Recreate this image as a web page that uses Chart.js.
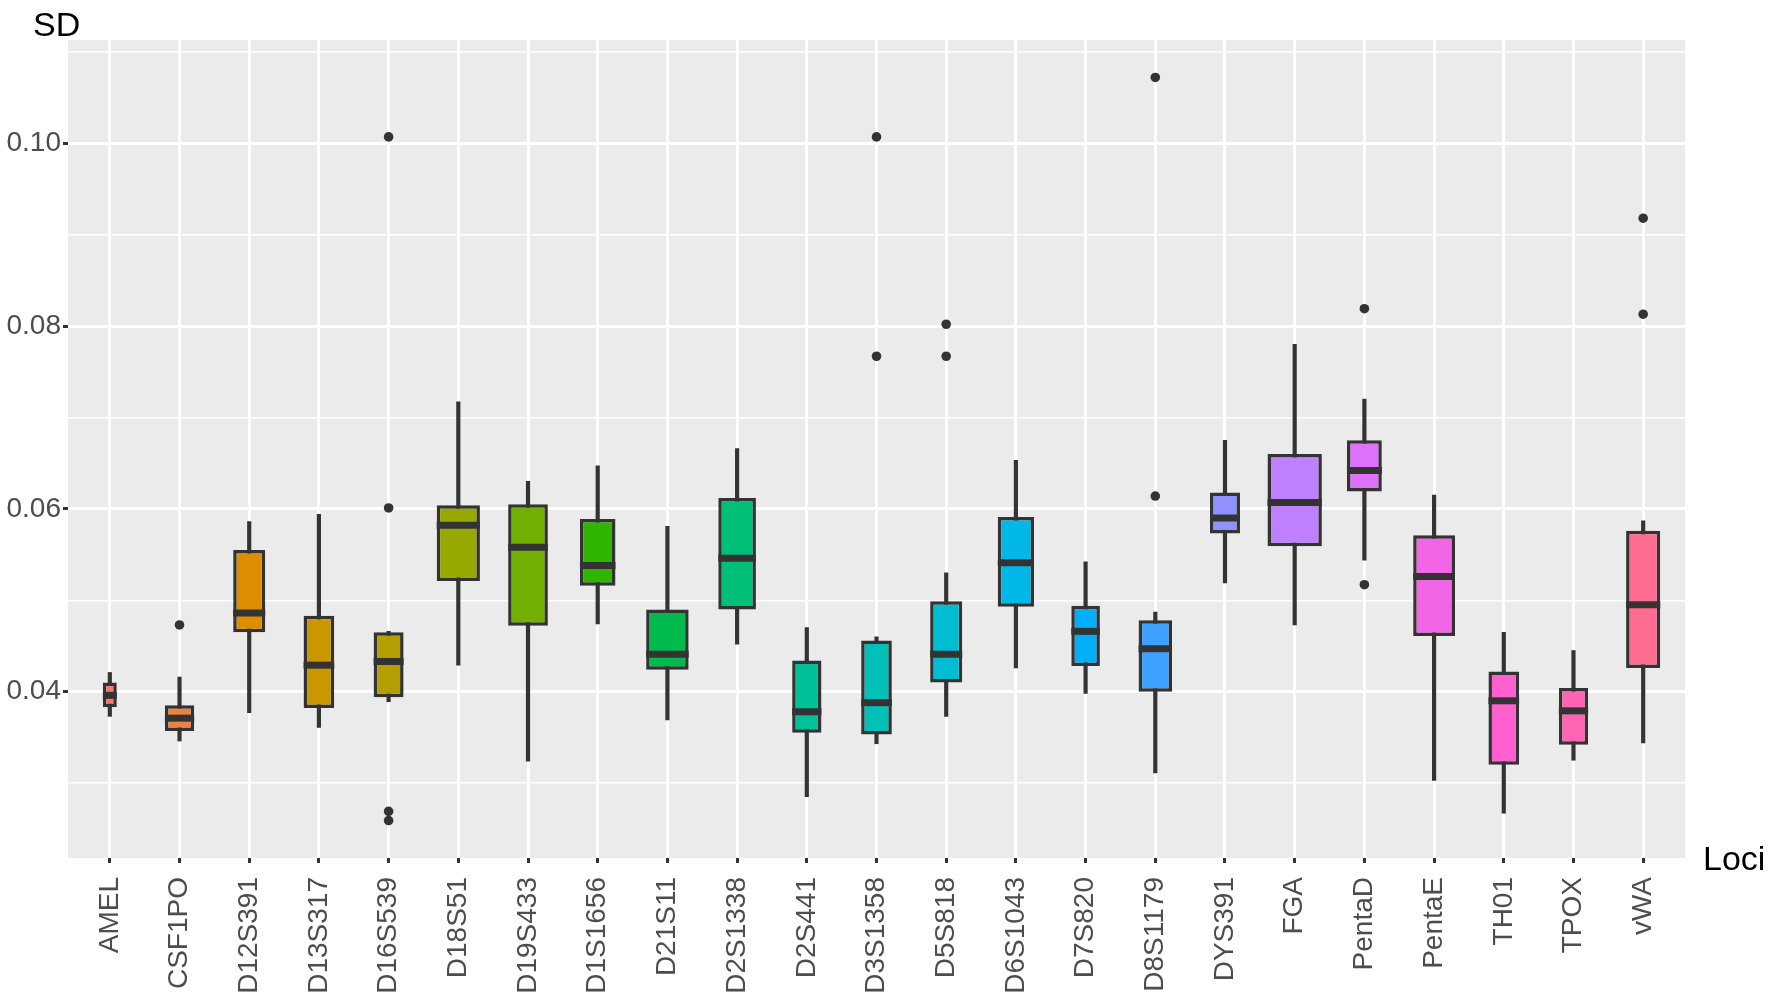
<!DOCTYPE html>
<html>
<head>
<meta charset="utf-8">
<title>SD by loci</title>
<script src="https://cdn.jsdelivr.net/npm/chart.js@4.4.1/dist/chart.umd.min.js"></script>
<style>
  html, body { margin: 0; padding: 0; background: #ffffff; }
  #wrap { width: 1770px; height: 997px; position: relative; }
</style>
</head>
<body>
<div id="wrap"><canvas id="myChart"></canvas></div>
<script>
const loci = ["AMEL", "CSF1PO", "D12S391", "D13S317", "D16S539", "D18S51", "D19S433", "D1S1656",
  "D21S11", "D2S1338", "D2S441", "D3S1358", "D5S818", "D6S1043", "D7S820", "D8S1179",
  "DYS391", "FGA", "PentaD", "PentaE", "TH01", "TPOX", "vWA"];

// five-number summaries
const whiskerLow = [0.0373, 0.0346, 0.0377, 0.0361, 0.0389, 0.0429, 0.0324, 0.0474, 0.0369, 0.0452, 0.0285, 0.0343,
  0.0373, 0.0426, 0.0398, 0.0311, 0.0519, 0.0473, 0.0544, 0.0303, 0.0267, 0.0325, 0.0344];
const q1 = [0.0383, 0.0357, 0.0465, 0.0382, 0.0394, 0.0521, 0.0472, 0.0516, 0.0424, 0.0490, 0.0355, 0.0353,
  0.0410, 0.0493, 0.0428, 0.0400, 0.0573, 0.0559, 0.0619, 0.0461, 0.0320, 0.0342, 0.0426];
const medians = [0.0396, 0.0371, 0.0486, 0.0429, 0.0433, 0.0582, 0.0558, 0.0538, 0.0441, 0.0546, 0.0378, 0.0388,
  0.0441, 0.0541, 0.0466, 0.0447, 0.0590, 0.0607, 0.0642, 0.0526, 0.0390, 0.0379, 0.0495];
const q3 = [0.0410, 0.0385, 0.0555, 0.0483, 0.0465, 0.0604, 0.0605, 0.0589, 0.0490, 0.0612, 0.0434, 0.0456,
  0.0499, 0.0591, 0.0494, 0.0478, 0.0618, 0.0660, 0.0675, 0.0571, 0.0422, 0.0404, 0.0576];
const whiskerHigh = [0.0421, 0.0416, 0.0586, 0.0594, 0.0466, 0.0717, 0.0630, 0.0647, 0.0581, 0.0666, 0.0470, 0.0460,
  0.0530, 0.0653, 0.0542, 0.0487, 0.0675, 0.0780, 0.0720, 0.0615, 0.0465, 0.0445, 0.0587];

const outlierLoci = ["CSF1PO", "D16S539", "D16S539", "D16S539", "D16S539", "D3S1358", "D3S1358",
  "D5S818", "D5S818", "D8S1179", "D8S1179", "PentaD", "PentaD", "vWA", "vWA"];
const outlierValues = [0.0473, 0.1007, 0.0601, 0.0269, 0.0259, 0.1007, 0.0767,
  0.0802, 0.0767, 0.1072, 0.0614, 0.0819, 0.0517, 0.0918, 0.0813];

const yTicks = [0.03, 0.04, 0.05, 0.06, 0.07, 0.08, 0.09, 0.10, 0.11];

// box widths (varwidth boxes), share of the step between loci
const boxWidths = [0.20, 0.42, 0.46, 0.44, 0.43, 0.62, 0.57, 0.51, 0.61, 0.54, 0.42, 0.44,
  0.46, 0.52, 0.41, 0.48, 0.43, 0.78, 0.50, 0.60, 0.44, 0.42, 0.49];

const dark = "#333333";
const tickFont = { family: "Liberation Sans", size: 28 };

// ggplot2 default hue palette: hcl(h, c = 100, l = 65)
function hcl(h, c, l) {
  const whiteY = 100, whiteU = 0.1978398, whiteV = 0.4683363;
  const rad = h * Math.PI / 180;
  const U = c * Math.cos(rad), V = c * Math.sin(rad);
  const Y = whiteY * (l > 7.999592 ? Math.pow((l + 16) / 116, 3) : l / 903.3);
  const u = U / (13 * l) + whiteU;
  const v = V / (13 * l) + whiteV;
  const X = 9.0 * Y * u / (4 * v);
  const Z = -X / 3 - 5 * Y + 3 * Y / v;
  const gt = (t) => t > 0.00304 ? 1.055 * Math.pow(t, 1 / 2.4) - 0.055 : 12.92 * t;
  const ch = (t) => Math.round(255 * Math.min(1, Math.max(0, gt(t))));
  const r = ch((3.240479 * X - 1.537150 * Y - 0.498535 * Z) / whiteY);
  const g = ch((-0.969256 * X + 1.875992 * Y + 0.041556 * Z) / whiteY);
  const b = ch((0.055648 * X - 0.204043 * Y + 1.057311 * Z) / whiteY);
  return "rgb(" + r + "," + g + "," + b + ")";
}
const fills = loci.map((_, i) => hcl(15 + 360 * i / loci.length, 100, 65));

function isMajor(v) {
  return Math.round(v * 100) % 2 === 0;
}

const datasets = [];
// whiskers go behind the boxes
datasets.push({
  type: "bar",
  label: "whiskers",
  data: loci.map((_, i) => ({ x: i, y: [whiskerLow[i], whiskerHigh[i]] })),
  backgroundColor: dark,
  barThickness: 3.5,
  grouped: false,
  order: 3
});
loci.forEach((name, i) => {
  datasets.push({
    type: "bar",
    label: name,
    data: [{ x: i, y: [q1[i], q3[i]] }],
    backgroundColor: fills[i],
    borderColor: dark,
    borderWidth: 3.5,
    borderSkipped: false,
    barPercentage: boxWidths[i],
    categoryPercentage: 1,
    grouped: false,
    order: 2
  });
});
datasets.push({
  type: "scatter",
  label: "outliers",
  data: outlierLoci.map((name, k) => ({ x: loci.indexOf(name), y: outlierValues[k] })),
  backgroundColor: dark,
  borderWidth: 0,
  pointRadius: 4.8,
  order: 0
});

const panel = {
  id: "panel",
  beforeDraw(chart) {
    const { ctx, chartArea: a } = chart;
    ctx.save();
    ctx.fillStyle = "#EBEBEB";
    ctx.fillRect(a.left, a.top, a.right - a.left, a.bottom - a.top);
    ctx.restore();
  }
};

const medianLines = {
  id: "medianLines",
  afterDatasetsDraw(chart) {
    const ctx = chart.ctx;
    const y = chart.scales.y;
    ctx.save();
    ctx.strokeStyle = dark;
    ctx.lineWidth = 7;
    chart.data.datasets.forEach((ds, di) => {
      const i = loci.indexOf(ds.label);
      if (i < 0) return;
      const bar = chart.getDatasetMeta(di).data[0];
      const py = y.getPixelForValue(medians[i]);
      ctx.beginPath();
      ctx.moveTo(bar.x - bar.width / 2, py);
      ctx.lineTo(bar.x + bar.width / 2, py);
      ctx.stroke();
    });
    ctx.restore();
  }
};

const axisTitles = {
  id: "axisTitles",
  afterDraw(chart) {
    const { ctx, chartArea: a } = chart;
    ctx.save();
    ctx.fillStyle = "#000000";
    ctx.font = "34px 'Liberation Sans'";
    ctx.textAlign = "left";
    ctx.textBaseline = "alphabetic";
    ctx.fillText("SD", 33, 36);
    ctx.textBaseline = "middle";
    ctx.fillText("Loci", a.right + 18, a.bottom + 3);
    ctx.restore();
  }
};

const ctx = document.getElementById("myChart").getContext("2d");
new Chart(ctx, {
  type: "bar",
  data: { datasets: datasets },
  plugins: [panel, medianLines, axisTitles],
  options: {
    responsive: true,
    maintainAspectRatio: false,
    devicePixelRatio: 1,
    animation: false,
    layout: { padding: { top: 40, right: 85, left: 0, bottom: 0 } },
    plugins: {
      legend: { display: false },
      tooltip: { enabled: false }
    },
    scales: {
      x: {
        type: "linear",
        min: -0.6,
        max: 22.6,
        offset: false,
        afterBuildTicks: (s) => { s.ticks = loci.map((_, i) => ({ value: i })); },
        afterFit: (s) => { s.height = 139; },
        border: { display: false },
        grid: { offset: false, color: "#FFFFFF", lineWidth: 3, tickColor: dark, tickLength: 5, tickWidth: 3 },
        ticks: {
          autoSkip: false,
          minRotation: 90,
          maxRotation: 90,
          padding: 14,
          color: "#4D4D4D",
          font: tickFont,
          callback: (v) => loci[v]
        }
      },
      y: {
        type: "linear",
        min: 0.0218,
        max: 0.1113,
        afterBuildTicks: (s) => { s.ticks = yTicks.map((v) => ({ value: v })); },
        afterFit: (s) => { s.width = 68; },
        border: { display: false },
        grid: {
          color: "#FFFFFF",
          lineWidth: (c) => (c.tick && isMajor(c.tick.value)) ? 3 : 1.5,
          tickColor: (c) => (c.tick && isMajor(c.tick.value)) ? dark : "rgba(0,0,0,0)",
          tickLength: 5,
          tickWidth: 3
        },
        ticks: {
          autoSkip: false,
          padding: 2,
          color: "#4D4D4D",
          font: tickFont,
          callback: (v) => isMajor(v) ? v.toFixed(2) : ""
        }
      }
    }
  }
});
</script>
</body>
</html>
